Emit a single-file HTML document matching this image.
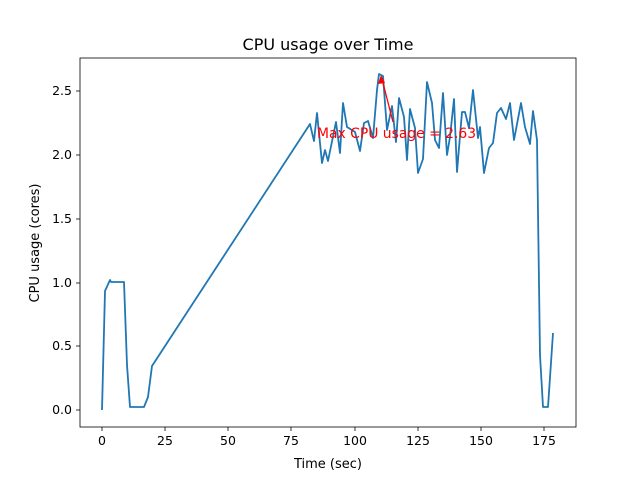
<!DOCTYPE html>
<html><head><meta charset="utf-8"><style>body{margin:0;background:#fff}</style></head><body>
<svg width="640" height="480" xmlns="http://www.w3.org/2000/svg" font-family="DejaVu Sans, Liberation Sans, sans-serif">
<rect width="640" height="480" fill="#fff"/>
<polyline fill="none" stroke="#1f77b4" stroke-width="1.8" stroke-linejoin="round" points="102,410 105,291 110,280 111,282 124,282 127,365 130,407 144,407 148,397 152,366 310,124 314,141 317,113 322,163 325,150 328,161 336,122 340,153 343,103 347,127 355,132 360,151 364,123 368,121 373,138 377,90 379,74 383,76 387,130 392,106 396,142 399,98 404,117 407,160 410,109 415,128 418,173 423,159 427,82 432,103 435,140 439,148 443,93 447,155 450,137 454,99 457,172 462,112 465,112 469,128 473,90 478,138 480,127 484,173 489,148 493,143 497,113 501,108 506,119 510,103 514,140 521,103 525,127 530,144 533,111 537,140 540,355 543,407 548,407 553,333"/>
<line x1="393" y1="122" x2="382" y2="79" stroke="red" stroke-width="1.3"/>
<polygon points="381,75 378,84 385,83" fill="red"/>
<text x="317" y="138" font-size="13.9" fill="red">Max CPU usage = 2.63</text>
<rect x="80" y="58" width="496" height="369" fill="none" stroke="#000" stroke-width="0.8"/>
<g stroke="#000" stroke-width="0.8">
<line x1="102" y1="427" x2="102" y2="431"/><line x1="165" y1="427" x2="165" y2="431"/><line x1="228" y1="427" x2="228" y2="431"/><line x1="291" y1="427" x2="291" y2="431"/><line x1="355" y1="427" x2="355" y2="431"/><line x1="418" y1="427" x2="418" y2="431"/><line x1="481" y1="427" x2="481" y2="431"/><line x1="544" y1="427" x2="544" y2="431"/>
<line x1="76" y1="410" x2="80" y2="410"/><line x1="76" y1="346" x2="80" y2="346"/><line x1="76" y1="283" x2="80" y2="283"/><line x1="76" y1="219" x2="80" y2="219"/><line x1="76" y1="155" x2="80" y2="155"/><line x1="76" y1="91" x2="80" y2="91"/>
</g>
<g font-size="12.5" text-anchor="middle" fill="#000">
<text x="102" y="445">0</text><text x="165" y="445">25</text><text x="228" y="445">50</text><text x="291" y="445">75</text><text x="355" y="445">100</text><text x="418" y="445">125</text><text x="481" y="445">150</text><text x="544" y="445">175</text>
</g>
<g font-size="12.5" text-anchor="end" fill="#000">
<text x="72" y="414">0.0</text><text x="72" y="350">0.5</text><text x="72" y="287">1.0</text><text x="72" y="223">1.5</text><text x="72" y="159">2.0</text><text x="72" y="95">2.5</text>
</g>
<text x="328" y="468" font-size="13" text-anchor="middle">Time (sec)</text>
<text transform="translate(39,243) rotate(-90)" font-size="13" text-anchor="middle">CPU usage (cores)</text>
<text x="328" y="50" font-size="16" text-anchor="middle">CPU usage over Time</text>
</svg>
</body></html>
